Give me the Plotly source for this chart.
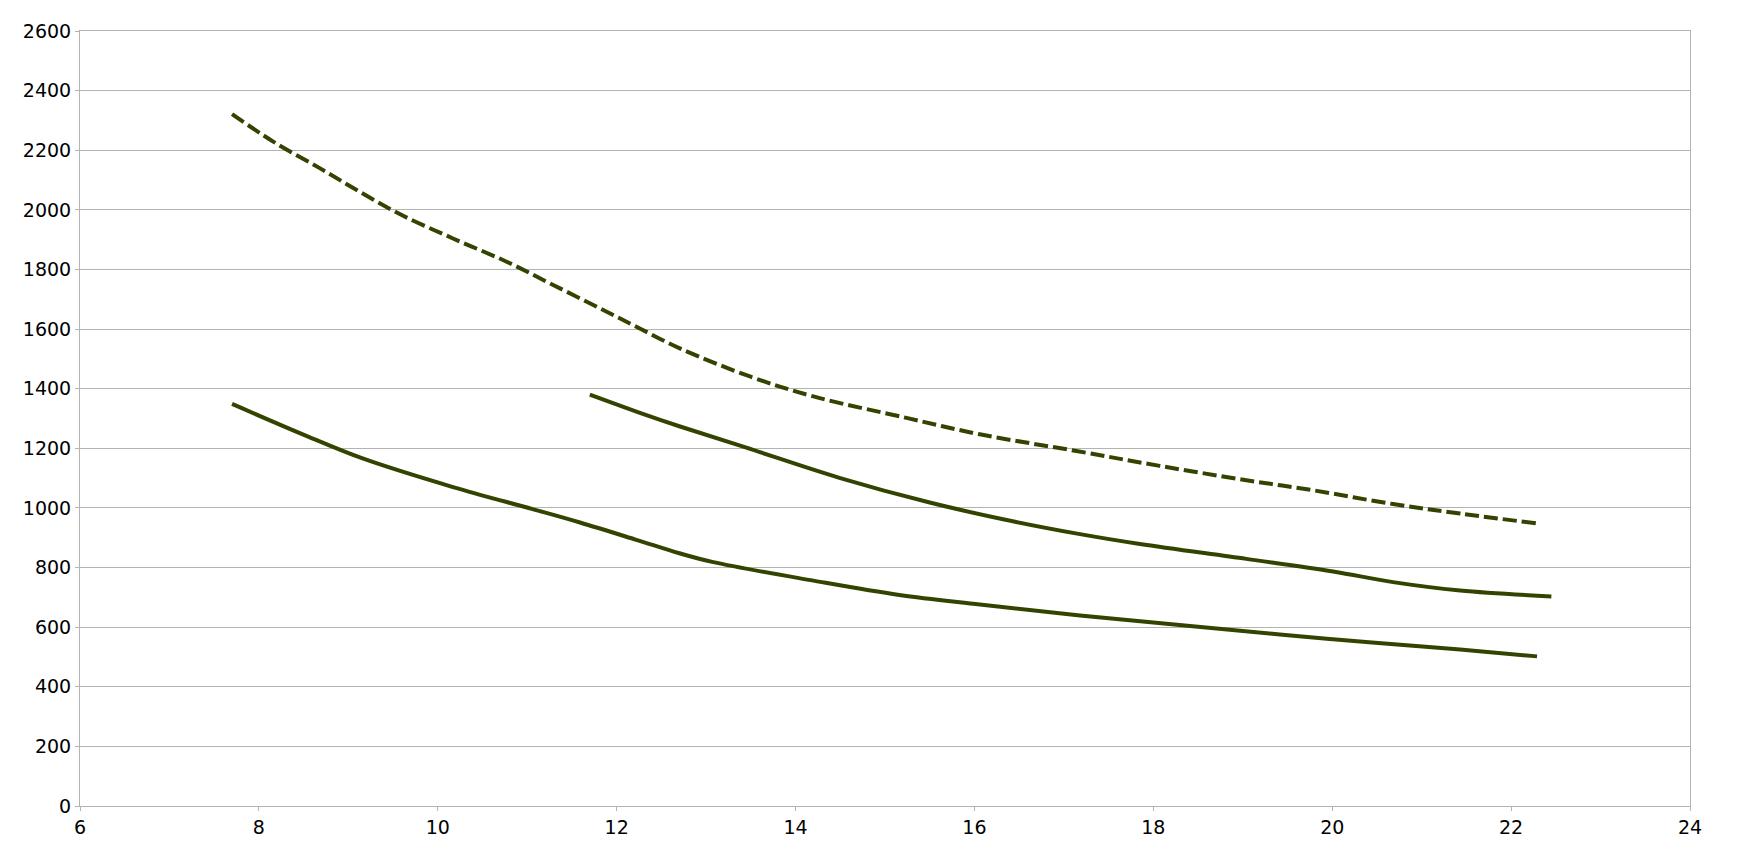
import plotly.graph_objects as go

# Upper (dashed) curve
dash_x = [7.70, 8.16, 8.68, 9.13, 9.58, 10.17, 10.77, 11.29, 11.85, 12.22, 12.70, 13.49,
          14.20, 15.24, 16.06, 17.14, 18.07, 19.04, 19.79, 20.68, 21.43, 22.29]
dash_y = [2321, 2229, 2140, 2060, 1985, 1904, 1826, 1748, 1664, 1608, 1536, 1441,
          1374, 1302, 1247, 1191, 1141, 1093, 1059, 1013, 981, 948]

# Middle (solid) curve
mid_x = [11.70, 12.26, 12.70, 13.45, 14.49, 15.50, 16.32, 17.18, 17.85, 19.04, 20.01,
         20.68, 21.43, 22.45]
mid_y = [1380, 1319, 1274, 1202, 1101, 1018, 962, 912, 879, 829, 787, 751, 723, 703]

# Lower (solid) curve
low_x = [7.70, 8.49, 9.16, 10.17, 11.06, 11.59, 12.22, 12.70, 13.08, 14.20, 15.16,
         16.06, 17.18, 18.44, 19.94, 21.43, 22.29]
low_y = [1349, 1247, 1166, 1070, 996, 951, 893, 848, 818, 756, 708, 676, 639, 603,
         561, 525, 502]

x_ticks = [6, 8, 10, 12, 14, 16, 18, 20, 22, 24]
y_ticks = list(range(0, 2601, 200))

COLOR = "#334400"
GRID = "#b3b3b3"

fig = go.Figure()
fig.add_trace(go.Scatter(x=dash_x, y=dash_y, mode="lines", line_shape="spline",
                         line=dict(color=COLOR, width=4, dash="14px,5px")))
fig.add_trace(go.Scatter(x=mid_x, y=mid_y, mode="lines", line_shape="spline",
                         line=dict(color=COLOR, width=4)))
fig.add_trace(go.Scatter(x=low_x, y=low_y, mode="lines", line_shape="spline",
                         line=dict(color=COLOR, width=4)))

axis_common = dict(showline=True, linecolor=GRID, linewidth=1, mirror=True,
                   ticks="outside", ticklen=4, tickcolor=GRID, tickwidth=1,
                   zeroline=False,
                   tickfont=dict(family="DejaVu Sans", size=19, color="#000000"))

fig.update_xaxes(range=[6, 24], tickvals=x_ticks, ticktext=[str(v) for v in x_ticks],
                 showgrid=False, **axis_common)
fig.update_yaxes(range=[0, 2600], tickvals=y_ticks, ticktext=[str(v) for v in y_ticks],
                 showgrid=True, gridcolor=GRID, gridwidth=1, **axis_common)

fig.update_layout(width=1741, height=846, showlegend=False,
                  plot_bgcolor="white", paper_bgcolor="white",
                  margin=dict(l=72, r=59, t=20, b=48))

fig.write_html("out.html")
